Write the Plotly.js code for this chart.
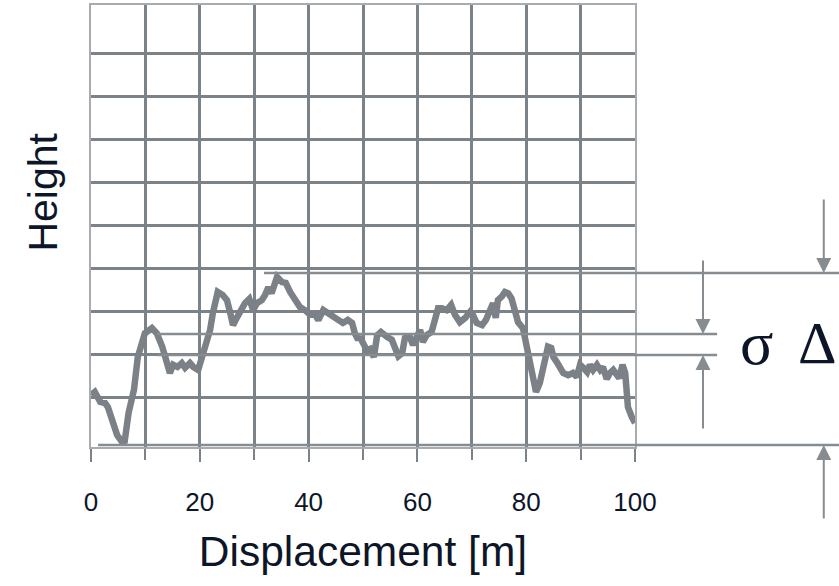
<!DOCTYPE html>
<html>
<head>
<meta charset="utf-8">
<script src="https://cdn.plot.ly/plotly-3.0.1.min.js"></script>
<style>html,body{margin:0;padding:0;background:#fff;}#chart{width:839px;height:586px;}</style>
</head>
<body>
<div id="chart"></div>
<script>
// Profile data (displacement in m, height in grid units)
var displacement = [0,0.7,1.7,2.6,3.1,4.0,4.8,5.7,6.2,6.9,7.9,8.6,9.4,9.9,11.2,12.1,13.1,14.0,14.5,15.1,15.9,16.7,17.3,18.2,18.8,19.7,20.4,21.0,21.9,22.4,22.8,23.3,24.2,25.0,25.6,26.1,26.8,27.4,28.3,29.1,29.8,30.5,31.4,32.0,32.6,33.2,33.8,34.2,35.1,35.8,36.6,37.5,38.4,39.3,40.3,41.2,41.8,42.7,43.6,44.5,45.4,46.3,47.2,48.0,48.5,49.1,49.4,50.0,50.7,51.3,52.0,52.6,53.3,54.4,55.3,55.9,56.5,57.2,57.7,58.6,59.2,59.9,60.5,61.0,61.7,62.6,63.2,63.8,64.5,65.4,66.2,66.9,67.8,68.8,69.7,70.2,70.9,71.9,72.6,73.3,73.9,74.4,74.8,75.5,76.1,76.7,77.3,77.9,78.5,79.4,80.1,80.7,81.1,81.8,82.5,83.3,84.0,84.6,85.0,85.6,86.2,86.8,87.7,88.6,89.3,89.9,90.5,91.2,91.7,92.3,93.0,93.6,94.1,94.8,95.4,96.0,96.7,97.1,97.7,98.2,98.5,98.7,99.4,100];
var height = [1.07,1.14,0.91,0.88,0.79,0.45,0.14,-0.02,0.0,0.65,1.19,1.95,2.35,2.5,2.62,2.5,2.19,1.72,1.58,1.77,1.72,1.81,1.70,1.81,1.72,1.65,1.95,2.27,2.58,2.97,3.2,3.46,3.39,3.27,2.97,2.69,2.86,3.0,3.2,3.3,3.04,3.2,3.27,3.39,3.57,3.43,3.67,3.81,3.69,3.67,3.46,3.27,3.11,3.04,2.93,2.93,2.81,3.04,2.97,2.88,2.81,2.74,2.81,2.74,2.5,2.35,2.42,2.30,2.11,2.14,1.95,2.45,2.53,2.42,2.35,2.16,1.97,2.04,2.39,2.42,2.23,2.42,2.58,2.30,2.46,2.53,2.76,3.08,3.08,3.04,3.16,2.93,2.76,2.86,3.0,2.93,2.74,2.69,2.81,3.08,3.2,2.86,3.27,3.35,3.46,3.43,3.31,3.04,2.76,2.62,2.2,1.85,1.49,1.14,1.35,1.81,2.19,2.16,1.95,1.84,1.72,1.58,1.53,1.58,1.49,1.77,1.70,1.60,1.77,1.65,1.77,1.65,1.72,1.44,1.58,1.65,1.53,1.46,1.77,1.58,1.11,0.79,0.56,0.42];

// Reference levels: names, heights, start (x, m) and end (paper fraction)
var levelNames = ["max", "sigmaUpper", "sigmaLower", "min"];
var levelHeights = [3.90, 2.485, 2.0, -0.09];
var levelStartX = [31.8, 12.1, 12.1, 1.3];
var levelEndPaper = [1.375, 1.151, 1.151, 1.375];

var xTickVals = [0, 20, 40, 60, 80, 100];
var xTickText = ["0", "20", "40", "60", "80", "100"];
var yGridVals = [1, 2, 3, 4, 5, 6, 7, 8, 9];

var gridColor = "#7b8288";
var textColor = "#0d1628";
var arrowColor = "#878c91";

var shapes = levelNames.map(function (n, i) {
  return {
    type: "line", xref: "paper", yref: "y", layer: "above",
    x0: levelStartX[i] / 100, x1: levelEndPaper[i],
    y0: levelHeights[i], y1: levelHeights[i],
    line: {color: arrowColor, width: 2.5}
  };
});

function arrow(xp, yv, ay) {
  return {xref: "paper", yref: "y", x: xp, y: yv, ax: 0, ay: ay, text: "",
    showarrow: true, arrowhead: 2, arrowsize: 1.5, arrowwidth: 2,
    arrowcolor: arrowColor, standoff: 0};
}

var annotations = [
  arrow(1.125, levelHeights[1], -75),
  arrow(1.125, levelHeights[2], 75),
  arrow(1.347, levelHeights[0], -75),
  arrow(1.347, levelHeights[3], 75),
  {xref: "paper", yref: "y", x: 1.224, y: 2.27, text: "σ", showarrow: false,
   xanchor: "center", yanchor: "middle",
   font: {family: "Liberation Serif, serif", size: 62, color: textColor}},
  {xref: "paper", yref: "y", x: 1.335, y: 2.27, text: "Δ", showarrow: false,
   xanchor: "center", yanchor: "middle",
   font: {family: "Liberation Serif, serif", size: 60, color: textColor}},
  {xref: "paper", yref: "paper", x: -0.089, y: 0.577, text: "Height", showarrow: false,
   textangle: -90, xanchor: "center", yanchor: "middle",
   font: {family: "Liberation Sans, Arial, sans-serif", size: 41, color: textColor}}
];

var trace = {
  x: displacement, y: height, type: "scatter", mode: "lines",
  line: {color: "#7b8186", width: 6.5, shape: "linear"},
  hoverinfo: "skip"
};

var layout = {
  width: 839, height: 586,
  margin: {l: 91, r: 204, t: 5, b: 139, pad: 0},
  paper_bgcolor: "#ffffff", plot_bgcolor: "#ffffff",
  showlegend: false,
  font: {family: "Liberation Sans, Arial, sans-serif", color: textColor},
  xaxis: {
    range: [0, 100], tickvals: xTickVals, ticktext: xTickText,
    showgrid: true, gridcolor: gridColor, gridwidth: 3,
    ticks: "outside", ticklen: 13, tickwidth: 2, tickcolor: gridColor,
    minor: {dtick: 10, tick0: 0, showgrid: true, gridcolor: gridColor, gridwidth: 3,
            ticks: "outside", ticklen: 11, tickwidth: 2, tickcolor: gridColor},
    tickfont: {size: 26, color: textColor},
    ticklabelstandoff: 18,
    showline: true, linecolor: "#a8acb0", linewidth: 2, mirror: true,
    zeroline: false, fixedrange: true,
    title: {text: "Displacement [m]", font: {size: 42.5, color: textColor}, standoff: 20}
  },
  yaxis: {
    range: [-0.137, 10.118], tickvals: yGridVals, showticklabels: false,
    showgrid: true, gridcolor: gridColor, gridwidth: 3,
    ticks: "", showline: true, linecolor: "#a8acb0", linewidth: 2, mirror: true,
    zeroline: false, fixedrange: true
  },
  shapes: shapes,
  annotations: annotations
};

Plotly.newPlot("chart", [trace], layout, {displayModeBar: false, staticPlot: true});
</script>
</body>
</html>
